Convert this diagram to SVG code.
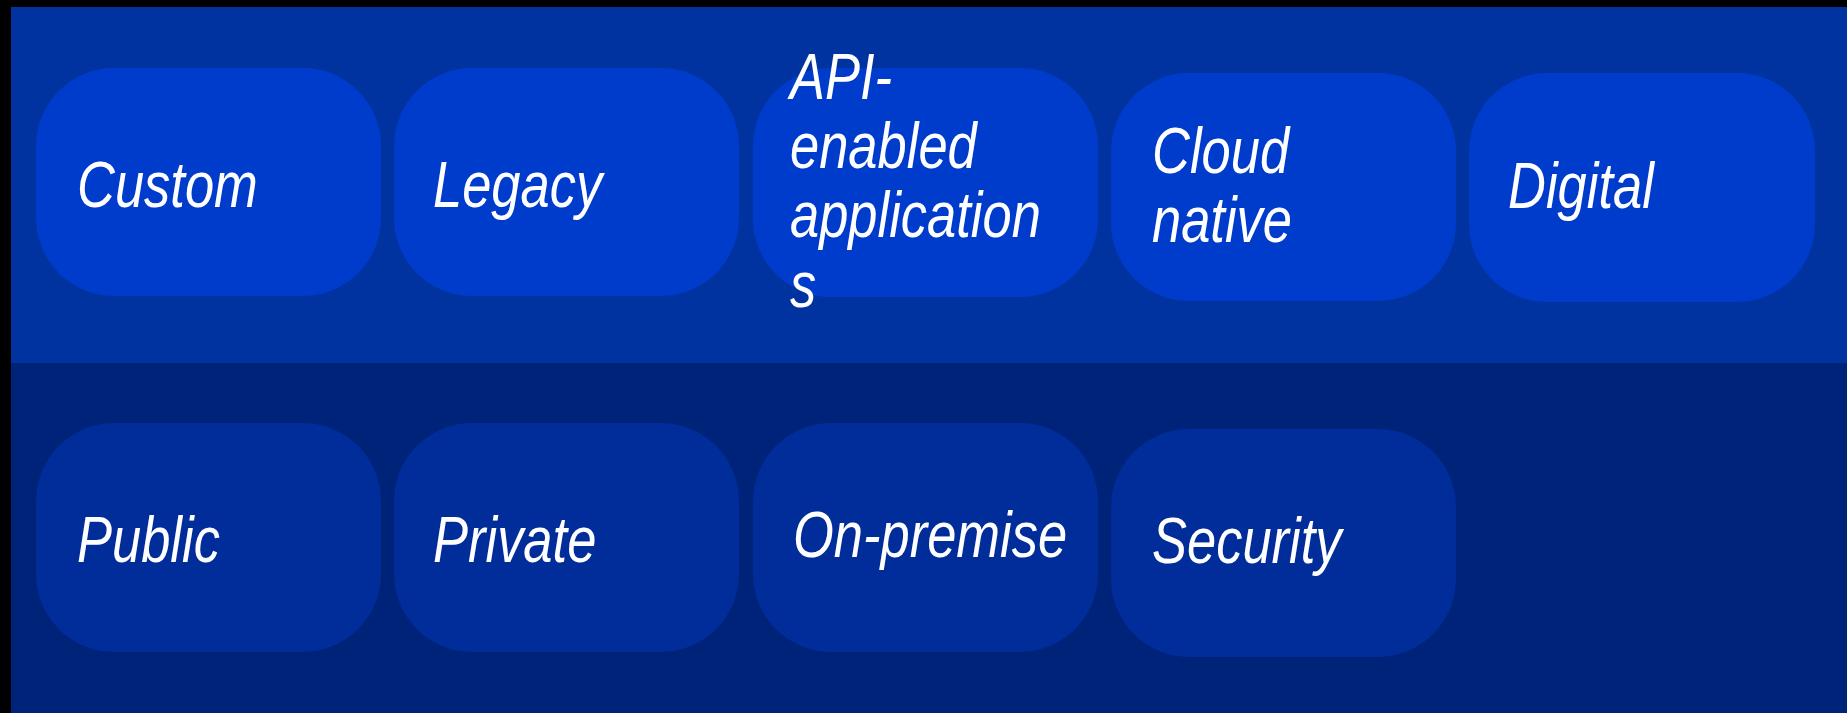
<svg xmlns="http://www.w3.org/2000/svg" width="1847" height="713" viewBox="0 0 1847 713">
<style>
.top{fill:#003ccc}
.bot{fill:#002d99}
.t{font-family:"Liberation Sans",Arial,sans-serif;font-style:italic;font-size:64px;fill:#ffffff}
</style>
<rect x="0" y="0" width="1847" height="713" fill="#000000"/>
<rect x="11" y="7" width="1836" height="356" fill="#0033a0"/>
<rect x="11" y="363" width="1836" height="350" fill="#00237a"/>
<g id="node-custom"><rect class="top" x="36" y="68" width="345" height="228" rx="78"/><text class="t" transform="translate(77,207) scale(0.82,1)">Custom</text></g>
<g id="node-legacy"><rect class="top" x="394" y="68" width="345" height="228" rx="78"/><text class="t" transform="translate(433,207) scale(0.82,1)">Legacy</text></g>
<g id="node-api"><rect class="top" x="753" y="68" width="345" height="229" rx="78"/><text class="t" transform="translate(790,99) scale(0.82,1)">API-<tspan x="0" y="69">enabled</tspan><tspan x="0" y="138">application</tspan><tspan x="0" y="208">s</tspan></text></g>
<g id="node-cloud"><rect class="top" x="1111" y="73" width="345" height="228" rx="78"/><text class="t" transform="translate(1152,173) scale(0.82,1)">Cloud<tspan x="0" y="69">native</tspan></text></g>
<g id="node-digital"><rect class="top" x="1469" y="73" width="346" height="229" rx="78"/><text class="t" transform="translate(1508,208) scale(0.82,1)">Digital</text></g>
<g id="node-public"><rect class="bot" x="36" y="423" width="345" height="229" rx="78"/><text class="t" transform="translate(77,562) scale(0.82,1)">Public</text></g>
<g id="node-private"><rect class="bot" x="394" y="423" width="345" height="229" rx="78"/><text class="t" transform="translate(433,562) scale(0.82,1)">Private</text></g>
<g id="node-onpremise"><rect class="bot" x="753" y="423" width="345" height="229" rx="78"/><text class="t" transform="translate(793,557) scale(0.82,1)">On-premise</text></g>
<g id="node-security"><rect class="bot" x="1111" y="429" width="345" height="228" rx="78"/><text class="t" transform="translate(1152,563) scale(0.82,1)">Security</text></g>
<g id="connectors"></g>
</svg>
